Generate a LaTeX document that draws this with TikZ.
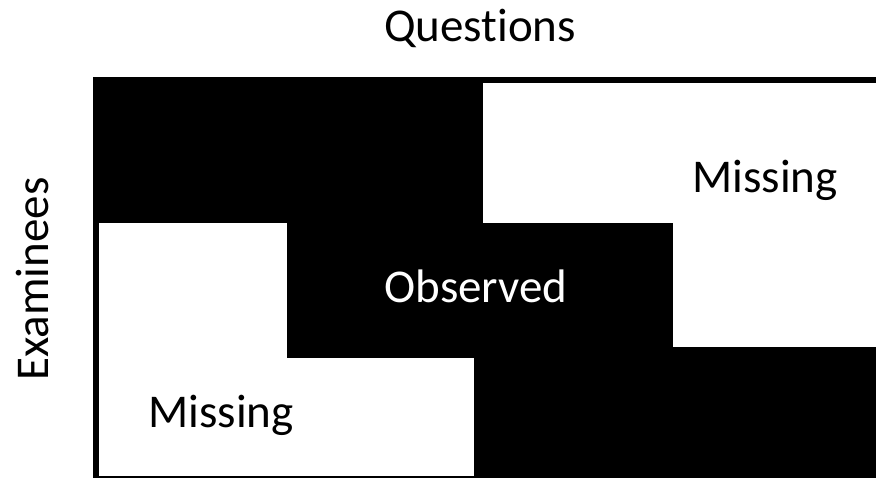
\documentclass[tikz,border=0pt]{standalone}
\usepackage{fontspec}
\setmainfont{Carlito}[Ligatures={NoCommon}]
\begin{document}
\begin{tikzpicture}[x=1pt,y=-1pt,line cap=butt]
\tikzset{lbl/.style={anchor=base,inner sep=0pt,font=\fontsize{47}{56}\selectfont}}
\useasboundingbox (0,0) rectangle (876,478);
\clip (0,0) rectangle (876,478);
% observed blocks
\fill[black] (93,77) rectangle (483,223);
\fill[black] (287,223) rectangle (673,358);
\fill[black] (474,347) rectangle (885,485);
% frame
\draw[line width=6pt] (96,80) rectangle (882,479);
% labels
\node[lbl] (questions) at (480,42) {Questions};
\node[lbl,rotate=90] (examinees) at (48,279) {Examinees};
\node[lbl] (misstop) at (765,193) {Missing};
\node[lbl,text=white] (observed) at (476,303) {Observed};
\node[lbl] (missbot) at (221,428) {Missing};
\end{tikzpicture}
\end{document}
